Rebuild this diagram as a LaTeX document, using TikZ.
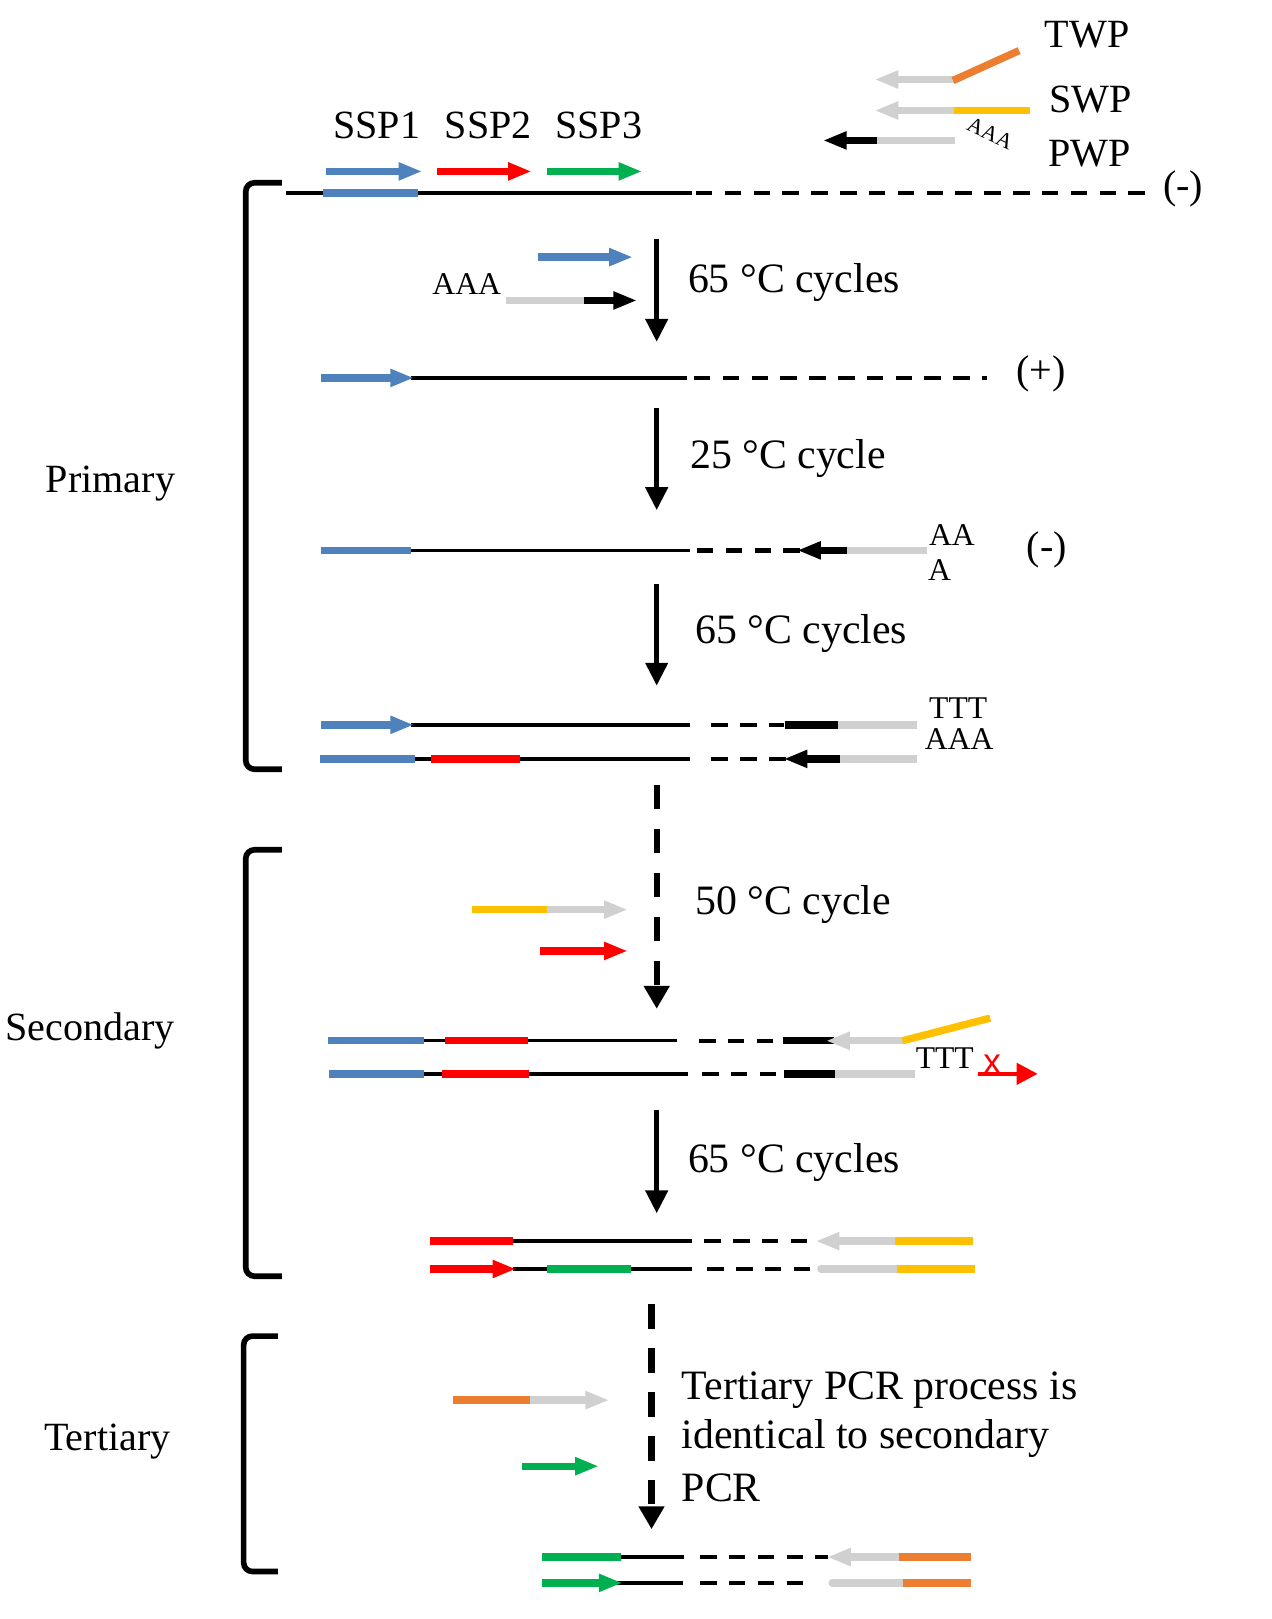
\documentclass[tikz,border=0pt]{standalone}
\usepackage{fontspec}
\setmainfont{Liberation Serif}
\newfontfamily\xmarkfont{Liberation Sans}
\usetikzlibrary{arrows.meta}
\definecolor{cblue}{RGB}{79,129,189}
\definecolor{cred}{RGB}{255,0,0}
\definecolor{cgreen}{RGB}{0,176,80}
\definecolor{cgray}{RGB}{208,208,208}
\definecolor{cyellow}{RGB}{255,192,0}
\definecolor{corange}{RGB}{237,125,49}
\tikzset{
  strand/.style={line width=1.9pt, draw=black},
  dsh/.style={line width=2.6pt, draw=black, dash pattern=on 9.4pt off 7pt},
  cbar/.style={line width=4.2pt},
  ctip/.style={-{Triangle[length=13.5pt,width=9.5pt]}},
  steparrow/.style={line width=2.6pt, -{Triangle[length=13pt,width=12.5pt]}},
  stepdashed/.style={line width=3.6pt, dash pattern=on 14pt off 11pt, -{Triangle[length=13pt,width=14pt]}},
  bigtext/.style={font=\fontsize{22.8}{27}\selectfont, inner sep=0pt},
  steptext/.style={font=\fontsize{23.8}{28}\selectfont, inner sep=0pt, anchor=west},
  smalltext/.style={font=\fontsize{18}{21}\selectfont, inner sep=0pt},
  bracketline/.style={line width=3.2pt, rounded corners=5pt},
}
\begin{document}
\begin{tikzpicture}[x=0.02065cm,y=-0.02065cm]
\useasboundingbox (0,0) rectangle (1231,1568);

% ---------- legend ----------
\draw[cbar,cgray,ctip] (925,77) -- (847,77);
\draw[cbar,corange] (923,78) -- (987,49);
\node[bigtext] (twp) at (1053,34) {TWP};
\draw[cbar,cgray,ctip] (925,107) -- (847,107);
\draw[cbar,cyellow] (924,107) -- (998,107);
\node[bigtext] (swp) at (1056,96) {SWP};
\node[font=\fontsize{12.5}{14}\selectfont, inner sep=0pt, rotate=-25] (aaaleg) at (959,129) {AAA};
\draw[cbar,cgray] (847,136) -- (925,136);
\draw[cbar,black,ctip] (849,136) -- (797,136);
\node[bigtext] (pwp) at (1055,149) {PWP};

% ---------- SSP primers ----------
\node[bigtext] (ssp1) at (365,121) {SSP1};
\node[bigtext] (ssp2) at (473,121) {SSP2};
\node[bigtext] (ssp3) at (580,121) {SSP3};
\draw[cbar,cblue,ctip] (316,166) -- (409,166);
\draw[cbar,cred,ctip] (423,166) -- (515,166);
\draw[cbar,cgreen,ctip] (530,166) -- (622,166);

% ---------- line 1 ----------
\draw[strand] (277,187) -- (670,187);
\draw[cbar,cblue] (313,187) -- (405,187);
\draw[dsh] (674,187) -- (1112,187);
\node[bigtext] (minus1) at (1146,183) {(-)};

% ---------- Primary bracket ----------
\draw[bracketline] (273,177) -- (238,177) -- (238,745) -- (273,745);
\node[bigtext] (primary) at (107,468) {Primary};

% ---------- step 1 ----------
\coordinate (a1s) at (636,231);
\coordinate (a1e) at (636,331);
\draw[steparrow] (a1s) -- (a1e);
\node[steptext] (t1) at (666,274) {65 °C cycles};
\draw[cbar,cblue,ctip] (521,249) -- (613,249);
\draw[cbar,cgray] (490,291) -- (568,291);
\draw[cbar,black,ctip] (566,291) -- (617,291);
\node[smalltext] (aaa1) at (452,275) {AAA};

% ---------- line 2 ----------
\draw[strand] (398,366) -- (665,366);
\draw[cbar,cblue,ctip] (311,366) -- (401,366);
\draw[dsh] (672,366) -- (956,366);
\node[bigtext] (plus) at (1008,362) {(+)};

% ---------- step 2 ----------
\coordinate (a2s) at (636,395);
\coordinate (a2e) at (636,494);
\draw[steparrow] (a2s) -- (a2e);
\node[steptext] (t2) at (668,444) {25 °C cycle};

% ---------- line 3 ----------
\draw[strand] (396,533) -- (668,533);
\draw[cbar,cblue] (311,533) -- (398,533);
\draw[dsh] (675,533) -- (775,533);
\draw[cbar,cgray] (818,533) -- (898,533);
\draw[cbar,black,ctip] (820,533) -- (772,533);
\node[smalltext] (aa3) at (922,518) {AA};
\node[smalltext] (a3) at (910,552) {A};
\node[bigtext] (minus3) at (1014,533) {(-)};

% ---------- step 3 ----------
\coordinate (a3s) at (636,566);
\coordinate (a3e) at (636,664);
\draw[steparrow] (a3s) -- (a3e);
\node[steptext] (t3) at (673,614) {65 °C cycles};

% ---------- lines 4 ----------
\draw[strand] (398,702) -- (668,702);
\draw[cbar,cblue,ctip] (311,702) -- (401,702);
\draw[dsh] (689,702) -- (759,702);
\draw[cbar,black] (760,702) -- (813,702);
\draw[cbar,cgray] (812,702) -- (888,702);
\node[smalltext] (ttt4) at (928,686) {TTT};

\draw[strand] (400,735) -- (668,735);
\draw[cbar,cblue] (310,735) -- (402,735);
\draw[cbar,cred] (417,735) -- (504,735);
\draw[dsh] (689,735) -- (762,735);
\draw[cbar,cgray] (812,735) -- (888,735);
\draw[cbar,black,ctip] (814,735) -- (759,735);
\node[smalltext] (aaa4) at (929,716) {AAA};

% ---------- dashed step 1 ----------
\coordinate (d1s) at (636,760);
\coordinate (d1e) at (636,977);
\draw[stepdashed] (d1s) -- (d1e);
\node[steptext] (t4) at (673,876) {50 °C cycle};
\draw[cbar,cyellow] (457,881) -- (532,881);
\draw[cbar,cgray,ctip] (530,881) -- (608,881);
\draw[cbar,cred,ctip] (523,921) -- (608,921);

% ---------- Secondary bracket ----------
\draw[bracketline] (273,823) -- (238,823) -- (238,1236) -- (273,1236);
\node[bigtext] (secondary) at (87,998) {Secondary};

% ---------- lines 5 ----------
\draw[strand] (410,1008) -- (656,1008);
\draw[cbar,cblue] (318,1008) -- (411,1008);
\draw[cbar,cred] (431,1008) -- (511,1008);
\draw[dsh] (677,1008) -- (752,1008);
\draw[cbar,black] (758,1008) -- (808,1008);
\draw[cbar,cgray,ctip] (877,1008) -- (800,1008);
\draw[cbar,cyellow] (874,1008) -- (959,986);

\draw[strand] (410,1040) -- (666,1040);
\draw[cbar,cblue] (319,1040) -- (411,1040);
\draw[cbar,cred] (428,1040) -- (512,1040);
\draw[dsh] (680,1040) -- (752,1040);
\draw[cbar,black] (759,1040) -- (810,1040);
\draw[cbar,cgray] (809,1040) -- (886,1040);
\node[smalltext] (ttt5) at (915,1025) {TTT};
\node[font=\xmarkfont\fontsize{20}{22}\selectfont, inner sep=0pt, text=cred] (xmark) at (961,1031) {x};
\coordinate (rs) at (947,1040);
\coordinate (re) at (1005,1040);
\draw[line width=2.4pt, cred, -{Triangle[length=12pt,width=12pt]}] (rs) -- (re);

% ---------- step 4 ----------
\coordinate (a4s) at (636,1075);
\coordinate (a4e) at (636,1175);
\draw[steparrow] (a4s) -- (a4e);
\node[steptext] (t5) at (666,1126) {65 °C cycles};

% ---------- lines 6 ----------
\draw[strand] (495,1202) -- (670,1202);
\draw[cbar,cred] (416,1202) -- (497,1202);
\draw[dsh] (682,1202) -- (784,1202);
\draw[cbar,cgray,ctip] (869,1202) -- (790,1202);
\draw[cbar,cyellow] (867,1202) -- (942,1202);

\draw[strand] (497,1229) -- (670,1229);
\draw[cbar,cred,ctip] (416,1229) -- (500,1229);
\draw[cbar,cgreen] (530,1229) -- (611,1229);
\draw[dsh] (685,1229) -- (784,1229);
\draw[cbar,cgray,line cap=round] (795,1229) -- (870,1229);
\draw[cbar,cyellow] (869,1229) -- (944,1229);

% ---------- dashed step 2 ----------
\coordinate (d2s) at (631,1263);
\coordinate (d2e) at (631,1481);
\draw[stepdashed] (d2s) -- (d2e);

% ---------- Tertiary bracket ----------
\draw[bracketline] (269,1294) -- (236,1294) -- (236,1522) -- (269,1522);
\node[bigtext] (tertiary) at (104,1396) {Tertiary};

\draw[cbar,corange] (439,1356) -- (515,1356);
\draw[cbar,cgray,ctip] (513,1356) -- (590,1356);
\draw[cbar,cgreen,ctip] (506,1420) -- (580,1420);

\node[steptext] (tx1) at (660,1346) {Tertiary PCR process is};
\node[steptext] (tx2) at (660,1393) {identical to secondary};
\node[steptext] (tx3) at (660,1441) {PCR};

% ---------- lines 7 ----------
\draw[strand] (598,1508) -- (662,1508);
\draw[cbar,cgreen] (525,1508) -- (601,1508);
\draw[dsh] (678,1508) -- (802,1508);
\draw[cbar,cgray,ctip] (873,1508) -- (801,1508);
\draw[cbar,corange] (871,1508) -- (940,1508);

\draw[strand] (598,1533) -- (661,1533);
\draw[cbar,cgreen,ctip] (525,1533) -- (603,1533);
\draw[dsh] (678,1533) -- (782,1533);
\draw[cbar,cgray,line cap=round] (806,1533) -- (876,1533);
\draw[cbar,corange] (875,1533) -- (940,1533);
\end{tikzpicture}
\end{document}
